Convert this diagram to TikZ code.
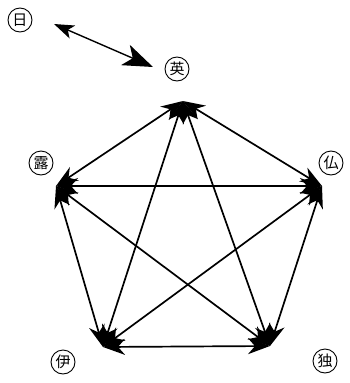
\documentclass[tikz,border=0pt]{standalone}
\usepackage{fontspec}
\newfontfamily\cjk{Noto Sans CJK JP}
\usetikzlibrary{arrows.meta}
\begin{document}
\begin{tikzpicture}[x=1pt,y=-1pt,
  lbl/.style={circle,draw,line width=0.9pt,inner sep=1pt,minimum size=24pt,font=\cjk\fontsize{15pt}{15pt}\selectfont},
  rel/.style={line width=1.7pt,{Stealth[length=22pt,width=16pt,inset=7pt]}-{Stealth[length=22pt,width=16pt,inset=7pt]}}]
\useasboundingbox (0,0) rectangle (349,383);
\node[lbl] (jp) at (20,20) {日};
\node[lbl] (uk) at (177,69) {英};
\node[lbl] (ru) at (41,163) {露};
\node[lbl] (fr) at (331,163) {仏};
\node[lbl] (it) at (63,362) {伊};
\node[lbl] (de) at (325,361) {独};
\coordinate (a) at (54,24);
\coordinate (b) at (153,67);
\coordinate (T) at (183,101);
\coordinate (L) at (56,186);
\coordinate (R) at (322,186);
\coordinate (BL) at (103,347);
\coordinate (BR) at (270,346);
\draw[line width=1.4pt,{Stealth[length=20pt,width=14pt,inset=5pt]}-{Stealth[length=30pt,width=22pt,inset=8pt]}] (a) -- (b);
\draw[rel] (T) -- (L);
\draw[rel] (T) -- (R);
\draw[rel] (T) -- (BL);
\draw[rel] (T) -- (BR);
\draw[rel] (L) -- (R);
\draw[rel] (L) -- (BL);
\draw[rel] (L) -- (BR);
\draw[rel] (R) -- (BL);
\draw[rel] (R) -- (BR);
\draw[rel] (BL) -- (BR);
\end{tikzpicture}
\end{document}
